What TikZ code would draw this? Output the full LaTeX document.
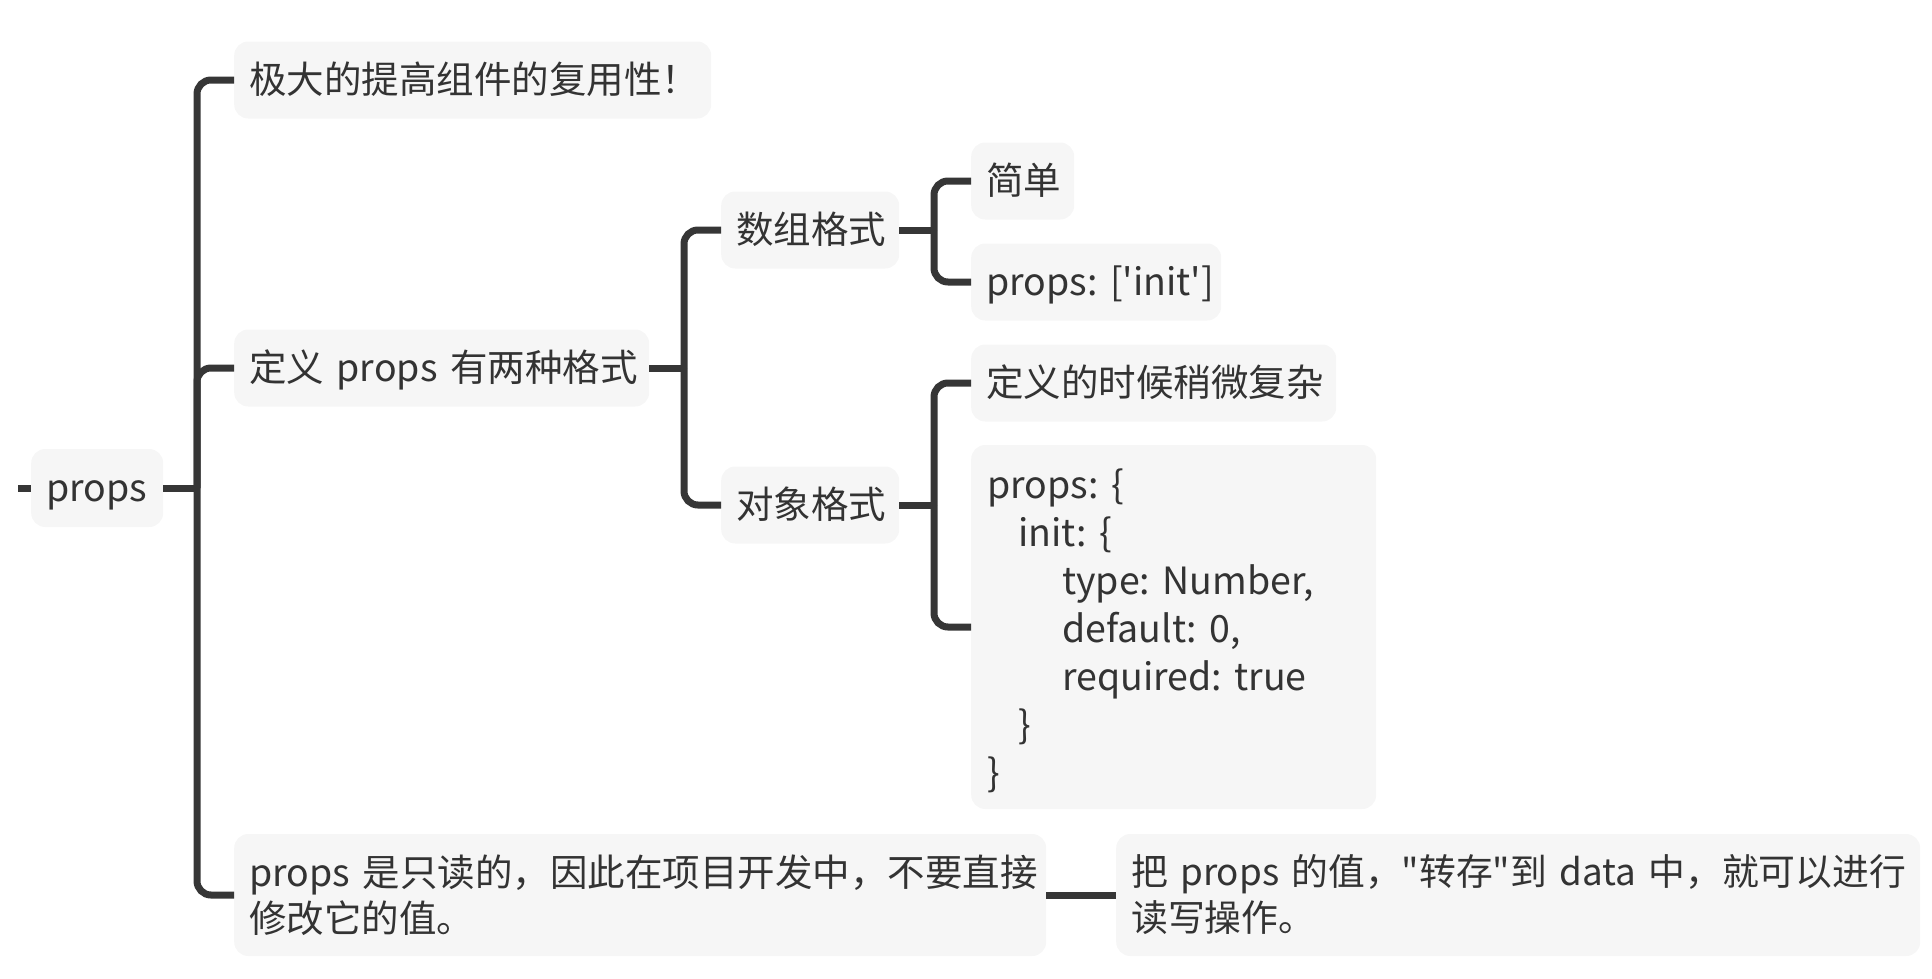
\documentclass[tikz,border=0pt]{standalone}
\usepackage{fontspec}
\newfontfamily\cjk[Ligatures=TeXOff]{Noto Sans CJK SC}
\newfontfamily\cjktight[Ligatures=TeXOff,WordSpace=0.75]{Noto Sans CJK SC}
\definecolor{boxfill}{HTML}{F6F6F6}
\definecolor{ink}{HTML}{333333}
\definecolor{wirecol}{HTML}{363636}
\begin{document}
\begin{tikzpicture}[x=1pt,y=-1pt,
  box/.style={fill=boxfill, rounded corners=14pt, anchor=west, inner xsep=15pt, inner ysep=0pt,
    text=ink, font=\cjk\fontsize{37.5}{46}\selectfont, align=left, minimum height=77pt},
  oneline/.style={box, text height=31pt, text depth=5pt},
  wire/.style={draw=wirecol, line width=7pt},
  curvewire/.style={wire, rounded corners=14pt}]
\useasboundingbox (0,0) rectangle (1932,978);

% nodes
\node[oneline, text width=102pt, minimum height=78pt] (root) at (31,488) {props};
\node[oneline, text width=447pt] (c1) at (234,80) {极大的提高组件的复用性！};
\node[oneline, text width=385pt] (c2) at (234,368) {定义~props~有两种格式};
\node[box, text width=782pt, minimum height=122pt] (c3) at (234,895)
  {props~是只读的，因此在项目开发中，不要直接\\修改它的值。};
\node[box, text width=774pt, minimum height=122pt, font=\cjktight\fontsize{36.8}{46}\selectfont] (c31) at (1116,895)
  {把~props~的值，"转存"到~data~中，就可以进行\\读写操作。};
\node[oneline, text width=148pt] (g1) at (721,230) {数组格式};
\node[oneline, text width=148pt] (g2) at (721,505) {对象格式};
\node[oneline, text width=73pt] (g11) at (971,181) {简单};
\node[oneline, text width=220pt] (g12) at (971,282) {props:~['init']};
\node[oneline, text width=335pt] (g21) at (971,383) {定义的时候稍微复杂};
\node[box, text width=373pt, inner xsep=16pt, minimum height=364pt,
      font=\cjk\fontsize{37.5}{48}\selectfont] (g22) at (971,627)
  {\rule{0pt}{38pt}props:~\{\\
   \hspace*{31pt}init:~\{\\
   \hspace*{75pt}type:~Number,\\
   \hspace*{75pt}default:~0,\\
   \hspace*{75pt}required:~true\\
   \hspace*{31pt}\}\\
   \}};

% junctions
\coordinate (in) at (18,488);
\coordinate (j0) at (197,488);
\coordinate (j1) at (684,368);
\coordinate (j2) at (934,230);
\coordinate (j3) at (934,505);

% connectors
\draw[wire] (in) -- (root.west);
\draw[wire] (root.east) -- (j0);
\draw[curvewire] (j0) |- (c1.west);
\draw[curvewire] (j0) |- (c2.west);
\draw[curvewire] (j0) |- (c3.west);
\draw[wire] (c3.east) -- (c31.west);

\draw[wire] (c2.east) -- (j1);
\draw[curvewire] (j1) |- (g1.west);
\draw[curvewire] (j1) |- (g2.west);

\draw[wire] (g1.east) -- (j2);
\draw[curvewire] (j2) |- (g11.west);
\draw[curvewire] (j2) |- (g12.west);

\draw[wire] (g2.east) -- (j3);
\draw[curvewire] (j3) |- (g21.west);
\draw[curvewire] (j3) |- (g22.west);
\end{tikzpicture}
\end{document}
